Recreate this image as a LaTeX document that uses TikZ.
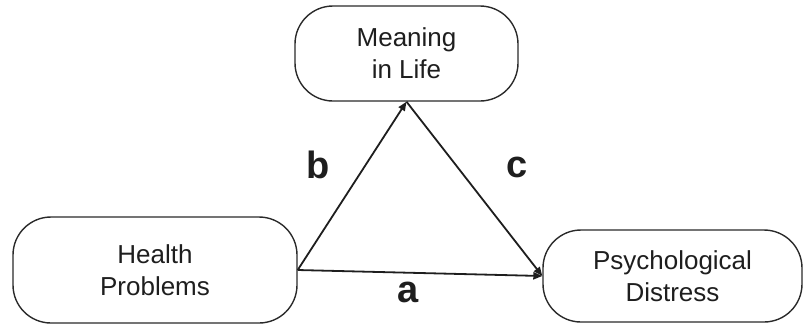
\documentclass[tikz,border=0pt]{standalone}
\usepackage{tikz}
\usetikzlibrary{arrows.meta,positioning}
\usepackage{fontspec}
\setmainfont{Liberation Sans}
\usepackage{xcolor}
\definecolor{ink}{HTML}{1E1E1E}
\definecolor{rim}{HTML}{2A2A2A}
\tikzset{
  box/.style={draw=rim,line width=0.7pt,rounded corners=19pt,align=center,
    text=ink,font=\fontsize{13}{16}\selectfont,inner sep=0pt},
  link/.style={draw=ink,line width=0.9pt,-{Triangle[length=4.5pt,width=3.6pt]}},
  pathlabel/.style={text=ink,font=\fontsize{19}{23}\selectfont\bfseries}
}

\begin{document}
\begin{tikzpicture}[x=0.5pt,y=-0.5pt]
  \useasboundingbox (0,0) rectangle (804,329);

  % Variables
  \node[box,minimum width=111.5pt,minimum height=47.5pt] (meaning) at (406.5,53.5) {Meaning\\in Life};
  \node[box,minimum width=142pt,minimum height=53pt] (health) at (155,270) {Health\\Problems};
  \node[box,minimum width=129.5pt,minimum height=46pt] (distress) at (672.5,276) {Psychological\\Distress};

  % Paths
  \draw[link] (health.east) -- (meaning.south);
  \draw[link] (meaning.south) -- (distress.west);
  \draw[link] (health.east) -- (distress.west);

  \node[pathlabel] (lb) at (318,165) {b};
  \node[pathlabel] (lc) at (517,167) {c};
  \node[pathlabel] (la) at (408,292) {a};
\end{tikzpicture}
\end{document}
